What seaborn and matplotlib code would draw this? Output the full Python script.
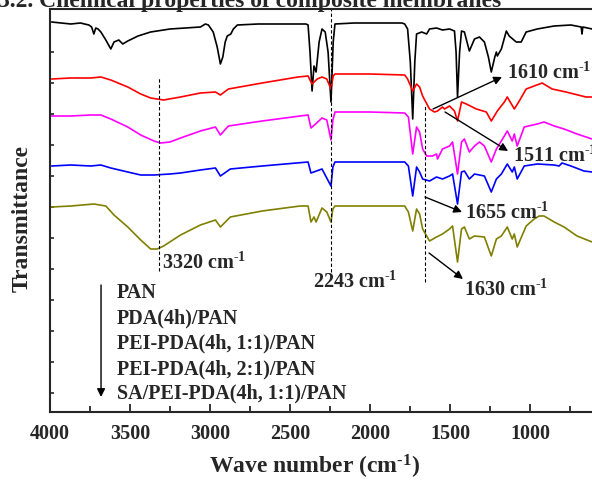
import matplotlib
matplotlib.use('Agg')
import matplotlib.pyplot as plt
import seaborn as sns
import numpy as np

# Spectra (wavenumber in cm-1, transmittance in a.u., offset per curve)
pan_wn = [3990, 3930, 3870, 3810, 3757, 3740, 3726, 3714, 3700, 3682, 3651, 3620, 3600, 3570, 3545,
          3514, 3450, 3371, 3250, 3060, 3029, 3010, 2980, 2955, 2935, 2920, 2905, 2892, 2870, 2854,
          2829, 2700, 2400, 2387, 2375, 2362, 2350, 2337, 2318, 2300, 2280, 2262, 2244, 2230, 2219,
          2100, 1800, 1783, 1765, 1748, 1733, 1720, 1709, 1677, 1646, 1628, 1584, 1547, 1503, 1472,
          1462, 1453, 1440, 1428, 1410, 1379, 1347, 1316, 1285, 1260, 1242, 1220, 1210, 1204, 1179,
          1148, 1130, 1086, 1055, 1024, 955, 849, 744, 680, 675, 670, 612]
pan_t = [390, 389, 388, 389, 387, 385, 378, 384, 383, 380, 372, 363, 370, 372, 368,
         371, 376, 380, 383, 385, 388, 387, 380, 365, 348, 355, 370, 376, 378, 383,
         387, 388, 388, 387, 360, 321, 346, 340, 370, 383, 380, 360, 310, 370, 388,
         389, 389, 388, 383, 350, 293, 350, 378, 380, 378, 383, 384, 382, 383, 381,
         360, 315, 360, 381, 380, 361, 373, 375, 370, 355, 340, 355, 360, 356, 363,
         381, 376, 370, 370, 380, 383, 386, 387, 385, 378, 385, 383]

pda_wn = [3990, 3870, 3745, 3682, 3620, 3514, 3433, 3371, 3290, 3184, 3060, 2966, 2935, 2885, 2674,
          2450, 2387, 2375, 2362, 2330, 2300, 2270, 2244, 2230, 2219, 2000, 1783, 1765, 1733, 1709,
          1690, 1671, 1628, 1597, 1578, 1547, 1534, 1503, 1472, 1453, 1428, 1398, 1335, 1273, 1242,
          1204, 1160, 1142, 1098, 1067, 1024, 924, 862, 775, 650, 612]
pda_t = [333, 334, 334, 335, 332, 325, 318, 314, 312, 315, 319, 320, 317, 323, 329,
         335, 336, 332, 328, 333, 335, 333, 323, 336, 338, 338, 337, 333, 321, 328,
         325, 316, 303, 300, 301, 305, 303, 306, 301, 291, 310, 308, 303, 300, 291,
         301, 310, 315, 303, 311, 323, 329, 323, 320, 315, 315]

pei11_wn = [3990, 3870, 3745, 3682, 3620, 3514, 3433, 3350, 3309, 3250, 3184, 3060, 2966, 2935, 2885,
            2674, 2437, 2387, 2369, 2340, 2300, 2270, 2244, 2232, 2219, 2000, 1783, 1760, 1733, 1709,
            1690, 1671, 1646, 1609, 1584, 1578, 1547, 1503, 1484, 1453, 1428, 1410, 1379, 1347, 1316,
            1285, 1242, 1210, 1179, 1142, 1111, 1098, 1080, 1036, 955, 912, 849, 787, 706, 612]
pei11_t = [296, 296, 297, 297, 293, 285, 277, 271, 269, 270, 274, 281, 285, 277, 286,
           291, 296, 297, 284, 288, 294, 292, 272, 292, 300, 300, 299, 295, 258, 285,
           280, 263, 256, 256, 258, 253, 263, 266, 270, 238, 270, 273, 260, 266, 270,
           266, 250, 263, 271, 281, 271, 278, 266, 285, 288, 290, 286, 283, 278, 273]

pei21_wn = [3990, 3870, 3745, 3682, 3620, 3514, 3433, 3350, 3250, 3184, 3060, 2966, 2935, 2873, 2674,
            2387, 2369, 2300, 2244, 2232, 2219, 1783, 1760, 1733, 1709, 1690, 1671, 1628, 1584, 1547,
            1503, 1484, 1453, 1428, 1410, 1379, 1347, 1285, 1242, 1210, 1179, 1142, 1111, 1098, 1080,
            1036, 955, 849, 818, 800, 744, 663, 612]
pei21_t = [246, 247, 246, 247, 244, 240, 237, 237, 238, 239, 242, 244, 236, 243, 246,
           250, 239, 243, 226, 245, 250, 250, 246, 216, 245, 240, 233, 231, 235, 233,
           236, 238, 208, 240, 241, 233, 238, 236, 220, 233, 238, 248, 240, 245, 233,
           246, 248, 247, 246, 249, 246, 241, 240]

sa_wn = [3990, 3869, 3726, 3651, 3600, 3514, 3433, 3371, 3330, 3290, 3184, 3060, 2966, 2935, 2873,
         2674, 2437, 2387, 2369, 2350, 2337, 2300, 2270, 2244, 2232, 2219, 1783, 1760, 1733, 1709,
         1690, 1671, 1628, 1584, 1547, 1503, 1484, 1453, 1428, 1410, 1379, 1347, 1285, 1242, 1210,
         1179, 1142, 1111, 1098, 1080, 1024, 974, 943, 912, 849, 787, 706, 612]
sa_t = [205, 206, 208, 206, 197, 185, 172, 163, 163, 166, 177, 187, 192, 185, 195,
        201, 206, 206, 190, 195, 190, 204, 200, 190, 203, 206, 206, 200, 181, 203,
        198, 183, 171, 175, 178, 183, 186, 150, 183, 185, 173, 176, 175, 156, 173,
        176, 185, 173, 178, 165, 186, 193, 196, 196, 190, 185, 176, 170]

names = ['PAN', 'PDA(4h)/PAN', 'PEI-PDA(4h, 1:1)/PAN', 'PEI-PDA(4h, 2:1)/PAN',
         'SA/PEI-PDA(4h, 1:1)/PAN']
colors = ['black', '#ff0000', '#ff00ff', '#0000ff', '#808000']
series = [(pan_wn, pan_t), (pda_wn, pda_t), (pei11_wn, pei11_t), (pei21_wn, pei21_t), (sa_wn, sa_t)]

# Marked bands: (wavenumber, line top, line bottom)
band_lines = [(3320, 335, 141), (2243, 403, 140), (1655, 306, 130)]
# Labels: text, text position, arrow tail, arrow head (None = no arrow)
band_labels = [
    ('3320', (3300, 150), None, None),
    ('2243', (2356, 131), None, None),
    ('1610', (1144, 340), (1606, 303), (1175, 335)),
    ('1511', (1106, 257), (1531, 300), (1137, 261)),
    ('1655', (1406, 200), (1656, 215), (1425, 200)),
    ('1630', (1413, 123), (1631, 159), (1419, 133)),
]

SUP = r'$^{\text{-}1}$'

sns.set_style('ticks')
plt.rcParams['font.family'] = ['Liberation Serif', 'DejaVu Serif']
plt.rcParams['font.weight'] = 'bold'
plt.rcParams['mathtext.fontset'] = 'custom'
plt.rcParams['mathtext.rm'] = 'Liberation Serif:bold'
plt.rcParams['mathtext.bf'] = 'Liberation Serif:bold'
plt.rcParams['mathtext.default'] = 'bf'

W, H = 592, 481
fig = plt.figure(figsize=(W / 100, H / 100), dpi=100)
ax = fig.add_axes([50 / W, (H - 413) / H, 542 / W, 403 / H])

for (wn, t), c in zip(series, colors):
    sns.lineplot(x=wn, y=t, color=c, lw=1.2, ax=ax, legend=False)

for wn, top, bot in band_lines:
    ax.plot([wn, wn], [bot, top], color='black', lw=0.8, ls=(0, (3, 2)))

for txt, pos, tail, head in band_labels:
    ax.text(pos[0], pos[1], txt + ' cm' + SUP, fontsize=14.5, fontweight='bold',
            ha='left', va='center')
    if tail is not None:
        ax.annotate('', xy=head, xytext=tail,
                    arrowprops=dict(arrowstyle='-|>', color='black', lw=1,
                                    mutation_scale=12, shrinkA=0, shrinkB=0))

# Stacking order legend with arrow
legend_t = [120, 95, 70, 44, 20]
for name, t in zip(names, legend_t):
    ax.text(3581, t, name, fontsize=14.5, fontweight='bold', ha='left', va='center')
ax.annotate('', xy=(3681, 15), xytext=(3681, 127),
            arrowprops=dict(arrowstyle='-|>', color='black', lw=1,
                            mutation_scale=12, shrinkA=0, shrinkB=0))

ax.set_xlim(4000, 612.5)
ax.set_ylim(0, 403)
ax.set_xticks([4000, 3500, 3000, 2500, 2000, 1500, 1000])
ax.set_xticks([3750, 3250, 2750, 2250, 1750, 1250, 750], minor=True)
ax.set_yticks([19 + 31 * k for k in range(12)])
ax.set_yticklabels([])
ax.set_xlabel('')
ax.set_ylabel('')
ax.tick_params(axis='x', which='major', direction='in', length=6, width=1.3, pad=8, labelsize=14.5)
ax.tick_params(axis='x', which='minor', direction='in', length=4, width=1.3)
ax.tick_params(axis='y', direction='in', length=3, width=1.2)
for lab in ax.get_xticklabels():
    lab.set_fontweight('bold')
for side in ['left', 'bottom', 'top']:
    ax.spines[side].set_linewidth(1.5)
ax.spines['right'].set_visible(False)

fig.text(315 / W, 1 - 467 / H, 'Wave number (cm' + SUP + ')', fontsize=17, fontweight='bold',
         ha='center', va='center')
fig.text(22 / W, 1 - 218 / H, 'Transmittance', fontsize=17, fontweight='bold',
         ha='center', va='center', rotation=90)
fig.text(-0.003, 1 - 7 / H, '3.2. Chemical properties of composite membranes', fontsize=17,
         fontweight='bold', ha='left', va='baseline')

fig.savefig('out.png', dpi=100)
